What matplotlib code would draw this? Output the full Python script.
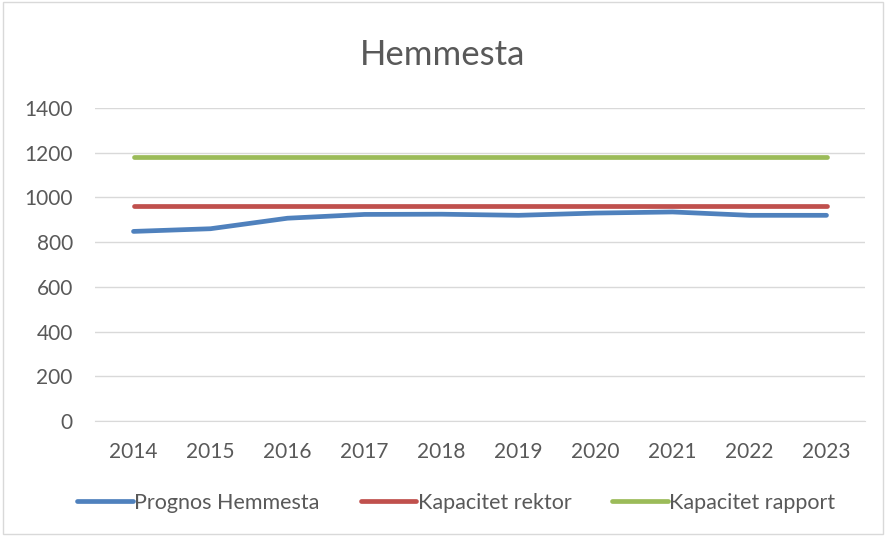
import matplotlib.pyplot as plt
import numpy as np

years = [2014, 2015, 2016, 2017, 2018, 2019, 2020, 2021, 2022, 2023]
prognos = [848, 860, 907, 924, 925, 920, 930, 935, 920, 920]
kap_rektor = [961] * 10
kap_rapport = [1182] * 10

plt.rcParams['font.family'] = ['Lato', 'DejaVu Sans']
grey = '#595959'

fig = plt.figure(figsize=(8.86, 5.36), dpi=100)
ax = fig.add_axes([95 / 886, 1 - 421 / 536, 770 / 886, 313 / 536])

x = np.arange(len(years))
ax.plot(x, prognos, color='#4f81bd', lw=3.4, solid_capstyle='round', label='Prognos Hemmesta')
ax.plot(x, kap_rektor, color='#c0504d', lw=3.4, solid_capstyle='round', label='Kapacitet rektor')
ax.plot(x, kap_rapport, color='#9bbb59', lw=3.4, solid_capstyle='round', label='Kapacitet rapport')

ax.set_xlim(-0.5, len(years) - 0.5)
ax.set_ylim(0, 1400)
ax.set_yticks(range(0, 1401, 200))
ax.set_xticks(x)
ax.set_xticklabels([str(y) for y in years])
ax.grid(axis='y', color='#d9d9d9', lw=1)
ax.set_axisbelow(True)
for s in ['top', 'right', 'left']:
    ax.spines[s].set_visible(False)
ax.spines['bottom'].set_color('#d9d9d9')
ax.tick_params(length=0, labelsize=15, colors=grey)
ax.tick_params(axis='x', pad=15)
ax.tick_params(axis='y', pad=16)

fig.text(0.5, 1 - 55 / 536, 'Hemmesta', ha='center', va='center', fontsize=25, color=grey)

fig.legend(loc='center', bbox_to_anchor=(0.515, 1 - 503 / 536), ncol=3, frameon=False,
           fontsize=15.5, labelcolor=grey, handlelength=2.6, handletextpad=0.05, columnspacing=1.9)

border = plt.Rectangle((0.003, 0.003), 0.994, 0.994, transform=fig.transFigure,
                       fill=False, edgecolor='#d9d9d9', lw=1)
fig.add_artist(border)

fig.savefig('out.png', dpi=100)
